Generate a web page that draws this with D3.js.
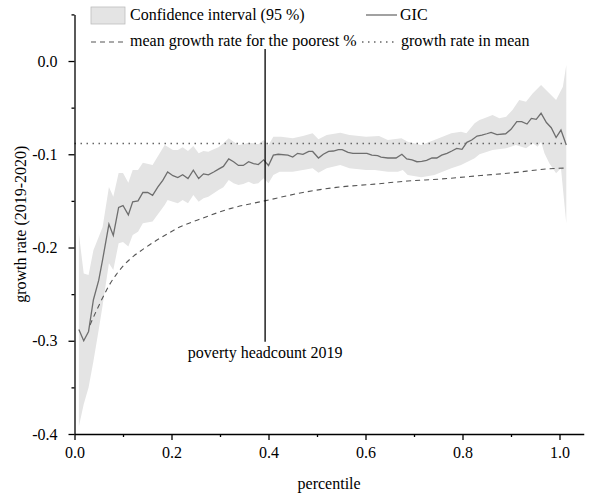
<!DOCTYPE html>
<html>
<head>
<meta charset="utf-8">
<script src="https://cdn.jsdelivr.net/npm/d3@7"></script>
<style>
  body { margin: 0; background: #fff; }
  text { font-family: "Liberation Serif", "Times New Roman", serif; }
</style>
</head>
<body>
<div id="chart-area"></div>
<script>
// GIC: growth rate by percentile
const gicPct = [0.009, 0.019, 0.029, 0.039, 0.050, 0.058, 0.071, 0.080, 0.091, 0.100,
  0.111, 0.120, 0.131, 0.141, 0.151, 0.161, 0.172, 0.182, 0.192, 0.203,
  0.213, 0.223, 0.234, 0.245, 0.256, 0.266, 0.276, 0.287, 0.297, 0.307,
  0.318, 0.328, 0.338, 0.348, 0.359, 0.369, 0.379, 0.390, 0.400, 0.410,
  0.420, 0.440, 0.450, 0.460, 0.471, 0.483, 0.491, 0.503, 0.513, 0.524,
  0.534, 0.544, 0.552, 0.564, 0.574, 0.584, 0.603, 0.613, 0.625, 0.632,
  0.646, 0.663, 0.675, 0.685, 0.696, 0.706, 0.716, 0.726, 0.737, 0.747,
  0.757, 0.768, 0.778, 0.788, 0.799, 0.809, 0.819, 0.830, 0.840, 0.850,
  0.859, 0.871, 0.889, 0.900, 0.912, 0.922, 0.933, 0.942, 0.952, 0.962,
  0.973, 0.983, 0.993, 1.003, 1.014]
const gic = [-0.288, -0.300, -0.290, -0.256, -0.235, -0.213, -0.175, -0.187, -0.157, -0.155,
  -0.165, -0.151, -0.150, -0.141, -0.141, -0.144, -0.135, -0.128, -0.119, -0.123,
  -0.125, -0.122, -0.126, -0.117, -0.126, -0.121, -0.122, -0.119, -0.116, -0.113,
  -0.105, -0.108, -0.112, -0.112, -0.108, -0.110, -0.111, -0.106, -0.112, -0.101,
  -0.100, -0.101, -0.103, -0.099, -0.100, -0.097, -0.097, -0.104, -0.100, -0.097,
  -0.0965, -0.095, -0.095, -0.098, -0.099, -0.099, -0.099, -0.101, -0.1015, -0.103,
  -0.104, -0.104, -0.100, -0.105, -0.106, -0.108, -0.1076, -0.1065, -0.104, -0.104,
  -0.101, -0.099, -0.0965, -0.0937, -0.0947, -0.0872, -0.0847, -0.0804, -0.0795, -0.078,
  -0.0765, -0.079, -0.078, -0.0733, -0.065, -0.065, -0.0676, -0.0615, -0.0625, -0.056,
  -0.066, -0.0715, -0.082, -0.074, -0.090]

// confidence interval (95 %), upper bound
const ciHighPct = [0.009, 0.019, 0.029, 0.039, 0.058, 0.071, 0.080, 0.091, 0.100, 0.111,
  0.120, 0.131, 0.141, 0.161, 0.186, 0.192, 0.203, 0.213, 0.223, 0.234,
  0.245, 0.256, 0.266, 0.276, 0.287, 0.297, 0.307, 0.318, 0.328, 0.338,
  0.348, 0.359, 0.369, 0.379, 0.390, 0.400, 0.410, 0.426, 0.450, 0.471,
  0.491, 0.503, 0.520, 0.548, 0.567, 0.601, 0.628, 0.646, 0.674, 0.687,
  0.715, 0.742, 0.777, 0.797, 0.808, 0.825, 0.835, 0.845, 0.862, 0.876,
  0.890, 0.903, 0.917, 0.931, 0.945, 0.962, 0.979, 0.993, 1.007, 1.014]
const ciHigh = [-0.185, -0.228, -0.2295, -0.203, -0.178, -0.135, -0.1455, -0.120, -0.120, -0.1305,
  -0.117, -0.117, -0.109, -0.1115, -0.090, -0.092, -0.0954, -0.0954, -0.0926, -0.0965,
  -0.0912, -0.099, -0.0965, -0.0973, -0.0947, -0.0926, -0.0883, -0.0829, -0.0865, -0.0901,
  -0.0893, -0.0876, -0.0883, -0.0893, -0.0847, -0.0901, -0.0812, -0.0812, -0.0829, -0.0804,
  -0.0775, -0.084, -0.0794, -0.0769, -0.0794, -0.0812, -0.0804, -0.0847, -0.0829, -0.0865,
  -0.0901, -0.0847, -0.0775, -0.0758, -0.0775, -0.0668, -0.0633, -0.0614, -0.0579, -0.0614,
  -0.0597, -0.0525, -0.0418, -0.0436, -0.0346, -0.0257, -0.0346, -0.0418, -0.0276, -0.0043]

// confidence interval (95 %), lower bound
const ciLowPct = [0.009, 0.019, 0.029, 0.039, 0.050, 0.058, 0.071, 0.080, 0.091, 0.100,
  0.111, 0.120, 0.131, 0.141, 0.161, 0.186, 0.192, 0.203, 0.213, 0.223,
  0.234, 0.245, 0.256, 0.266, 0.276, 0.287, 0.297, 0.307, 0.318, 0.328,
  0.338, 0.348, 0.359, 0.369, 0.379, 0.390, 0.400, 0.410, 0.423, 0.450,
  0.471, 0.491, 0.503, 0.520, 0.548, 0.567, 0.601, 0.619, 0.646, 0.667,
  0.677, 0.687, 0.715, 0.742, 0.777, 0.797, 0.825, 0.835, 0.862, 0.890,
  0.910, 0.931, 0.945, 0.955, 0.962, 0.969, 0.979, 0.993, 1.003, 1.014]
const ciLow = [-0.392, -0.368, -0.350, -0.322, -0.288, -0.262, -0.217, -0.224, -0.1955, -0.194,
  -0.199, -0.1866, -0.183, -0.174, -0.172, -0.1544, -0.149, -0.151, -0.1526, -0.149,
  -0.1526, -0.1437, -0.151, -0.1472, -0.1455, -0.1419, -0.1383, -0.1354, -0.1276, -0.1312,
  -0.133, -0.1319, -0.1294, -0.1319, -0.1312, -0.1258, -0.1312, -0.1222, -0.1187, -0.1187,
  -0.1169, -0.1151, -0.1198, -0.1151, -0.1115, -0.1151, -0.1169, -0.1169, -0.1187, -0.1187,
  -0.1169, -0.1222, -0.1247, -0.1222, -0.1151, -0.1115, -0.1043, -0.100, -0.0954, -0.0936,
  -0.0901, -0.0936, -0.0883, -0.0919, -0.0865, -0.099, -0.1097, -0.1204, -0.115, -0.174]

// mean growth rate for the poorest %
const poorPct = [0.032, 0.045, 0.058, 0.072, 0.086, 0.100, 0.120, 0.141, 0.170, 0.196,
  0.213, 0.254, 0.323, 0.392, 0.471, 0.540, 0.619, 0.687, 0.756, 0.838,
  0.904, 0.973, 1.014]
const poorMean = [-0.283, -0.268, -0.254, -0.240, -0.229, -0.220, -0.210, -0.202, -0.192, -0.184,
  -0.179, -0.1705, -0.158, -0.150, -0.141, -0.1355, -0.132, -0.1287, -0.1265, -0.1228,
  -0.1198, -0.1158, -0.1147]

// growth rate in mean
const meanGrowth = -0.0885
const meanRange = [0, 1.014]

// poverty headcount 2019
const povertyHeadcount = 0.393
const povertySpan = [0.013, -0.301]

const xTicks = [0, 0.2, 0.4, 0.6, 0.8, 1.0]
const xMinor = [0.1, 0.3, 0.5, 0.7, 0.9]
const yTicks = [-0.4, -0.3, -0.2, -0.1, 0.0]
const yMinor = [-0.35, -0.25, -0.15, -0.05, 0.05]

const WIDTH = 596
const HEIGHT = 495
const FONT = 16

const svg = d3.select("#chart-area").append("svg")
  .attr("width", WIDTH)
  .attr("height", HEIGHT)

const x = d3.scaleLinear().domain([0, 1.05]).range([74.5, 583.75])
const y = d3.scaleLinear().domain([-0.4, 0.05]).range([434, 14.4])

// band
const hiPts = ciHighPct.map((p, i) => [p, ciHigh[i]])
const loPts = ciLowPct.map((p, i) => [p, ciLow[i]]).reverse()
const polyLine = d3.line().x(d => x(d[0])).y(d => y(d[1]))
svg.append("path")
  .attr("d", polyLine(hiPts.concat(loPts)) + "Z")
  .attr("fill", "#e4e4e4")
  .attr("stroke", "none")

// growth rate in mean
svg.append("line")
  .attr("x1", x(meanRange[0])).attr("x2", x(meanRange[1]))
  .attr("y1", y(meanGrowth)).attr("y2", y(meanGrowth))
  .attr("stroke", "#666")
  .attr("stroke-width", 1.4)
  .attr("stroke-dasharray", "1.5,4.5")

// poorest mean
const smooth = d3.line().x(d => x(d[0])).y(d => y(d[1])).curve(d3.curveMonotoneX)
svg.append("path")
  .attr("d", smooth(poorPct.map((p, i) => [p, poorMean[i]])))
  .attr("fill", "none")
  .attr("stroke", "#555")
  .attr("stroke-width", 1.1)
  .attr("stroke-dasharray", "5,4")

// GIC
svg.append("path")
  .attr("d", polyLine(gicPct.map((p, i) => [p, gic[i]])))
  .attr("fill", "none")
  .attr("stroke", "#6e6e6e")
  .attr("stroke-width", 1.3)

// poverty headcount marker
svg.append("line")
  .attr("x1", x(povertyHeadcount)).attr("x2", x(povertyHeadcount))
  .attr("y1", y(povertySpan[0])).attr("y2", y(povertySpan[1]))
  .attr("stroke", "#000")
  .attr("stroke-width", 1.3)
svg.append("text")
  .attr("x", x(povertyHeadcount))
  .attr("y", y(povertySpan[1]) + 16)
  .attr("text-anchor", "middle")
  .attr("font-size", FONT)
  .text("poverty headcount 2019")

// axes
const fmt = d => d.toFixed(1)
const styleAxis = sel => {
  sel.selectAll("path, line").attr("stroke", "#000").attr("stroke-width", 1.3)
  sel.selectAll("text").attr("font-size", FONT).attr("fill", "#000")
    .attr("font-family", "'Liberation Serif', 'Times New Roman', serif")
}

svg.append("g")
  .attr("transform", `translate(0,${y(-0.4)})`)
  .call(d3.axisBottom(x).tickValues(xMinor).tickSize(3).tickFormat("").tickSizeOuter(0))
  .call(g => g.select(".domain").remove())
  .call(styleAxis)
svg.append("g")
  .attr("transform", `translate(0,${y(-0.4)})`)
  .call(d3.axisBottom(x).tickValues(xTicks).tickFormat(fmt).tickSize(6).tickPadding(7).tickSizeOuter(0))
  .call(styleAxis)

svg.append("g")
  .attr("transform", `translate(${x(0)},0)`)
  .call(d3.axisLeft(y).tickValues(yMinor).tickSize(3).tickFormat("").tickSizeOuter(0))
  .call(g => g.select(".domain").remove())
  .call(styleAxis)
svg.append("g")
  .attr("transform", `translate(${x(0)},0)`)
  .call(d3.axisLeft(y).tickValues(yTicks).tickFormat(fmt).tickSize(6).tickPadding(11).tickSizeOuter(0))
  .call(styleAxis)

// axis titles
svg.append("text")
  .attr("x", (x.range()[0] + x.range()[1]) / 2)
  .attr("y", 489)
  .attr("text-anchor", "middle")
  .attr("font-size", FONT)
  .text("percentile")

svg.append("text")
  .attr("transform", `translate(26,${(y.range()[0] + y.range()[1]) / 2}) rotate(-90)`)
  .attr("text-anchor", "middle")
  .attr("font-size", FONT)
  .text("growth rate (2019-2020)")

// legend
const legend = svg.append("g")
legend.append("rect")
  .attr("x", 91).attr("y", 7).attr("width", 34).attr("height", 17)
  .attr("fill", "#e4e4e4").attr("stroke", "#bdbdbd").attr("stroke-width", 0.8)
legend.append("text").attr("x", 130).attr("y", 20).attr("font-size", FONT)
  .text("Confidence interval (95 %)")

legend.append("line")
  .attr("x1", 366).attr("x2", 397).attr("y1", 15).attr("y2", 15)
  .attr("stroke", "#6e6e6e").attr("stroke-width", 1.3)
legend.append("text").attr("x", 400).attr("y", 20).attr("font-size", FONT)
  .text("GIC")

legend.append("line")
  .attr("x1", 91).attr("x2", 125).attr("y1", 42).attr("y2", 42)
  .attr("stroke", "#555").attr("stroke-width", 1.1).attr("stroke-dasharray", "5,4")
legend.append("text").attr("x", 130).attr("y", 46).attr("font-size", FONT)
  .text("mean growth rate for the poorest %")

legend.append("line")
  .attr("x1", 362).attr("x2", 397).attr("y1", 42).attr("y2", 42)
  .attr("stroke", "#666").attr("stroke-width", 1.4).attr("stroke-dasharray", "1.5,4.5")
legend.append("text").attr("x", 401).attr("y", 46).attr("font-size", FONT)
  .text("growth rate in mean")
</script>
</body>
</html>
